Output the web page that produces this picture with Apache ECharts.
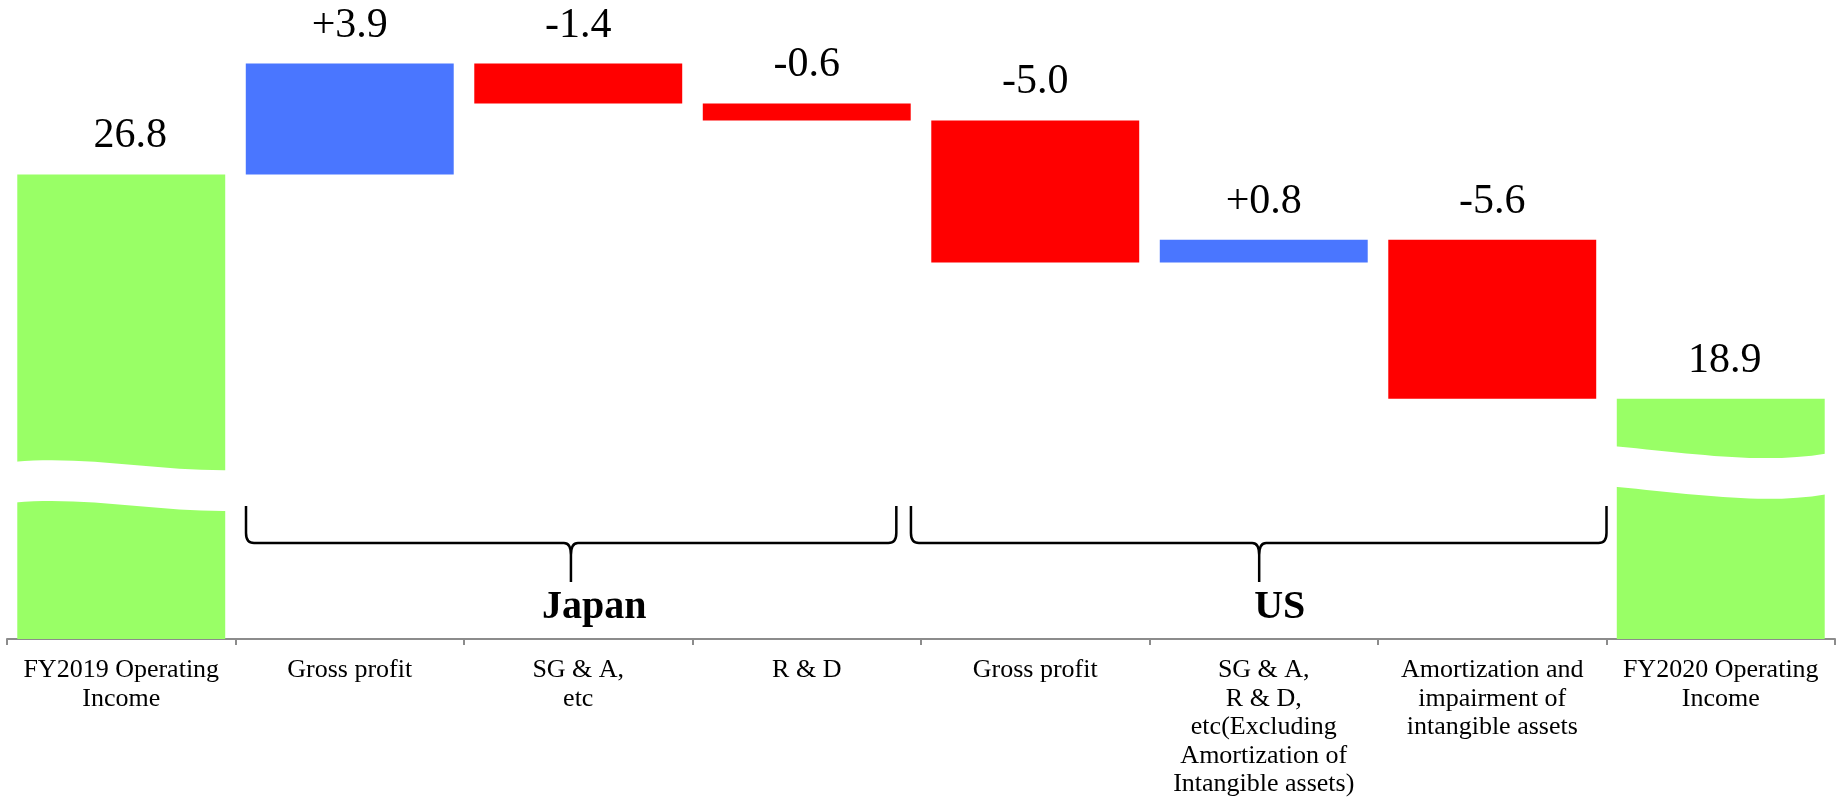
<!DOCTYPE html>
<html>
<head>
<meta charset="utf-8">
<script src="https://cdn.jsdelivr.net/npm/echarts@6/dist/echarts.min.js"></script>
<style>
html,body{margin:0;padding:0;background:#ffffff;}
#chart{width:1845px;height:807px;}
</style>
</head>
<body>
<div id="chart"></div>
<script>
// ---------- data ----------
const categories = [
  'FY2019 Operating\nIncome',
  'Gross profit',
  'SG & A,\netc',
  'R & D',
  'Gross profit',
  'SG & A,\nR & D,\netc(Excluding\nAmortization of\nIntangible assets)',
  'Amortization and\nimpairment of\nintangible assets',
  'FY2020 Operating\nIncome'
];
const startTotal = 26.8;
const changes = [3.9, -1.4, -0.6, -5.0, 0.8, -5.6];
const endTotal = 18.9;
const groupNames = ['Japan', 'US'];

// ---------- derived waterfall values ----------
const baseVals = [], barVals = [], labelTexts = [], kinds = [];
baseVals.push(0); barVals.push(startTotal); labelTexts.push(startTotal.toFixed(1)); kinds.push('total');
let level = startTotal;
changes.forEach(function (c) {
  const next = Math.round((level + c) * 10) / 10;
  baseVals.push(Math.min(level, next));
  barVals.push(Math.abs(c));
  labelTexts.push((c > 0 ? '+' : '') + c.toFixed(1));
  kinds.push(c > 0 ? 'up' : 'down');
  level = next;
});
baseVals.push(0); barVals.push(endTotal); labelTexts.push(endTotal.toFixed(1)); kinds.push('total');

// ---------- style / decoration config ----------
const COLORS = { total: '#99FF66', up: '#4A76FF', down: '#FF0000' };
const Y_MIN = 10.44, Y_MAX = 32.94;
const FONT = 'Liberation Serif';
const LABEL_SHIFT = { 0: [9, 0], 7: [4, 0] };
// axis-break waves drawn across the two total bars (category index, value of the wave's top-left)
const breakWaves = [
  { index: 0, value: 16.68, gap: 40.6, curve: [[0.35, -6], [0.65, 9], [1, 8.5]] },
  { index: 7, value: 17.23, gap: 40.7, curve: [[0.4, 8], [0.7, 18], [1, 7.3]] }
];
// bracket geometry in category units (0 = centre of first category)
const bracketLayout = [
  { left: 0.546, right: 3.392, tip: 1.968, text: 2.07 },
  { left: 3.456, right: 6.50, tip: 4.98, text: 5.07 }
];

const chart = echarts.init(document.getElementById('chart'), null, { renderer: 'canvas' });

const option = {
  animation: false,
  backgroundColor: '#ffffff',
  textStyle: { fontFamily: FONT },
  grid: { left: 7, right: 10, top: 0, bottom: 168, containLabel: false, outerBoundsMode: 'none' },
  xAxis: {
    type: 'category',
    data: categories,
    boundaryGap: true,
    axisLine: { show: true, lineStyle: { color: '#8C8C8C', width: 2 } },
    axisTick: { show: true, length: 6, lineStyle: { color: '#8C8C8C', width: 2 } },
    axisLabel: {
      interval: 0,
      margin: 17,
      color: '#000000',
      fontFamily: FONT,
      fontSize: 26,
      lineHeight: 28.5,
      align: 'center'
    },
    splitLine: { show: false }
  },
  yAxis: {
    type: 'value',
    min: Y_MIN,
    max: Y_MAX,
    show: false,
    splitLine: { show: false }
  },
  series: [
    {
      name: 'base',
      type: 'bar',
      stack: 'waterfall',
      clip: true,
      silent: true,
      barCategoryGap: '9%',
      itemStyle: { color: 'transparent' },
      data: baseVals
    },
    {
      name: 'value',
      type: 'bar',
      stack: 'waterfall',
      clip: true,
      barCategoryGap: '9%',
      data: barVals.map(function (v, i) {
        const item = { value: v, itemStyle: { color: COLORS[kinds[i]] } };
        if (LABEL_SHIFT[i]) item.label = { offset: LABEL_SHIFT[i] };
        return item;
      }),
      label: {
        show: true,
        position: 'top',
        distance: 17,
        color: '#000000',
        fontFamily: FONT,
        fontSize: 42,
        formatter: function (p) { return labelTexts[p.dataIndex]; }
      }
    },
    {
      name: 'breaks',
      type: 'custom',
      z: 5,
      silent: true,
      data: breakWaves.map(function (w) { return [w.index, w.value]; }),
      renderItem: function (params, api) {
        const w = breakWaves[params.dataIndex];
        const p = api.coord([api.value(0), api.value(1)]);
        const bw = api.size([1, 0])[0];
        const half = bw * 0.91 / 2 + 2;
        const x0 = p[0] - half, x1 = p[0] + half, W = x1 - x0, y = p[1], g = w.gap;
        const c = w.curve;
        const X = function (t) { return x0 + t * W; };
        const d = 'M' + x0 + ',' + y +
          ' C' + X(c[0][0]) + ',' + (y + c[0][1]) + ' ' + X(c[1][0]) + ',' + (y + c[1][1]) + ' ' + X(c[2][0]) + ',' + (y + c[2][1]) +
          ' L' + x1 + ',' + (y + c[2][1] + g) +
          ' C' + X(c[1][0]) + ',' + (y + c[1][1] + g) + ' ' + X(c[0][0]) + ',' + (y + c[0][1] + g) + ' ' + x0 + ',' + (y + g) + ' Z';
        return { type: 'path', shape: { pathData: d }, style: { fill: '#ffffff', stroke: null } };
      }
    },
    {
      name: 'brackets',
      type: 'custom',
      z: 6,
      silent: true,
      data: bracketLayout.map(function (b, i) { return [i, Y_MIN]; }),
      renderItem: function (params, api) {
        const b = bracketLayout[params.dataIndex];
        const c0 = api.coord([0, Y_MIN]);
        const bw = api.size([1, 0])[0];
        const X = function (f) { return c0[0] + f * bw; };
        const Yb = c0[1];
        const L = X(b.left), R = X(b.right), T = X(b.tip);
        const yt = Yb - 133, yh = Yb - 96, yp = Yb - 57;
        const d = 'M' + L + ',' + yt + ' L' + L + ',' + (yh - 10) +
          ' Q' + L + ',' + yh + ' ' + (L + 8) + ',' + yh +
          ' L' + (T - 7) + ',' + yh +
          ' Q' + T + ',' + yh + ' ' + T + ',' + (yh + 12) +
          ' L' + T + ',' + yp +
          ' M' + T + ',' + (yh + 12) +
          ' Q' + T + ',' + yh + ' ' + (T + 7) + ',' + yh +
          ' L' + (R - 8) + ',' + yh +
          ' Q' + R + ',' + yh + ' ' + R + ',' + (yh - 10) +
          ' L' + R + ',' + yt;
        return {
          type: 'group',
          children: [
            { type: 'path', shape: { pathData: d }, style: { fill: null, stroke: '#000000', lineWidth: 2.5 } },
            {
              type: 'text',
              x: X(b.text),
              y: Yb - 11,
              style: {
                text: groupNames[params.dataIndex],
                fontFamily: FONT,
                fontWeight: 'bold',
                fontSize: 40,
                fill: '#000000',
                align: 'center',
                verticalAlign: 'bottom'
              }
            }
          ]
        };
      }
    }
  ]
};

chart.setOption(option);
</script>
</body>
</html>
